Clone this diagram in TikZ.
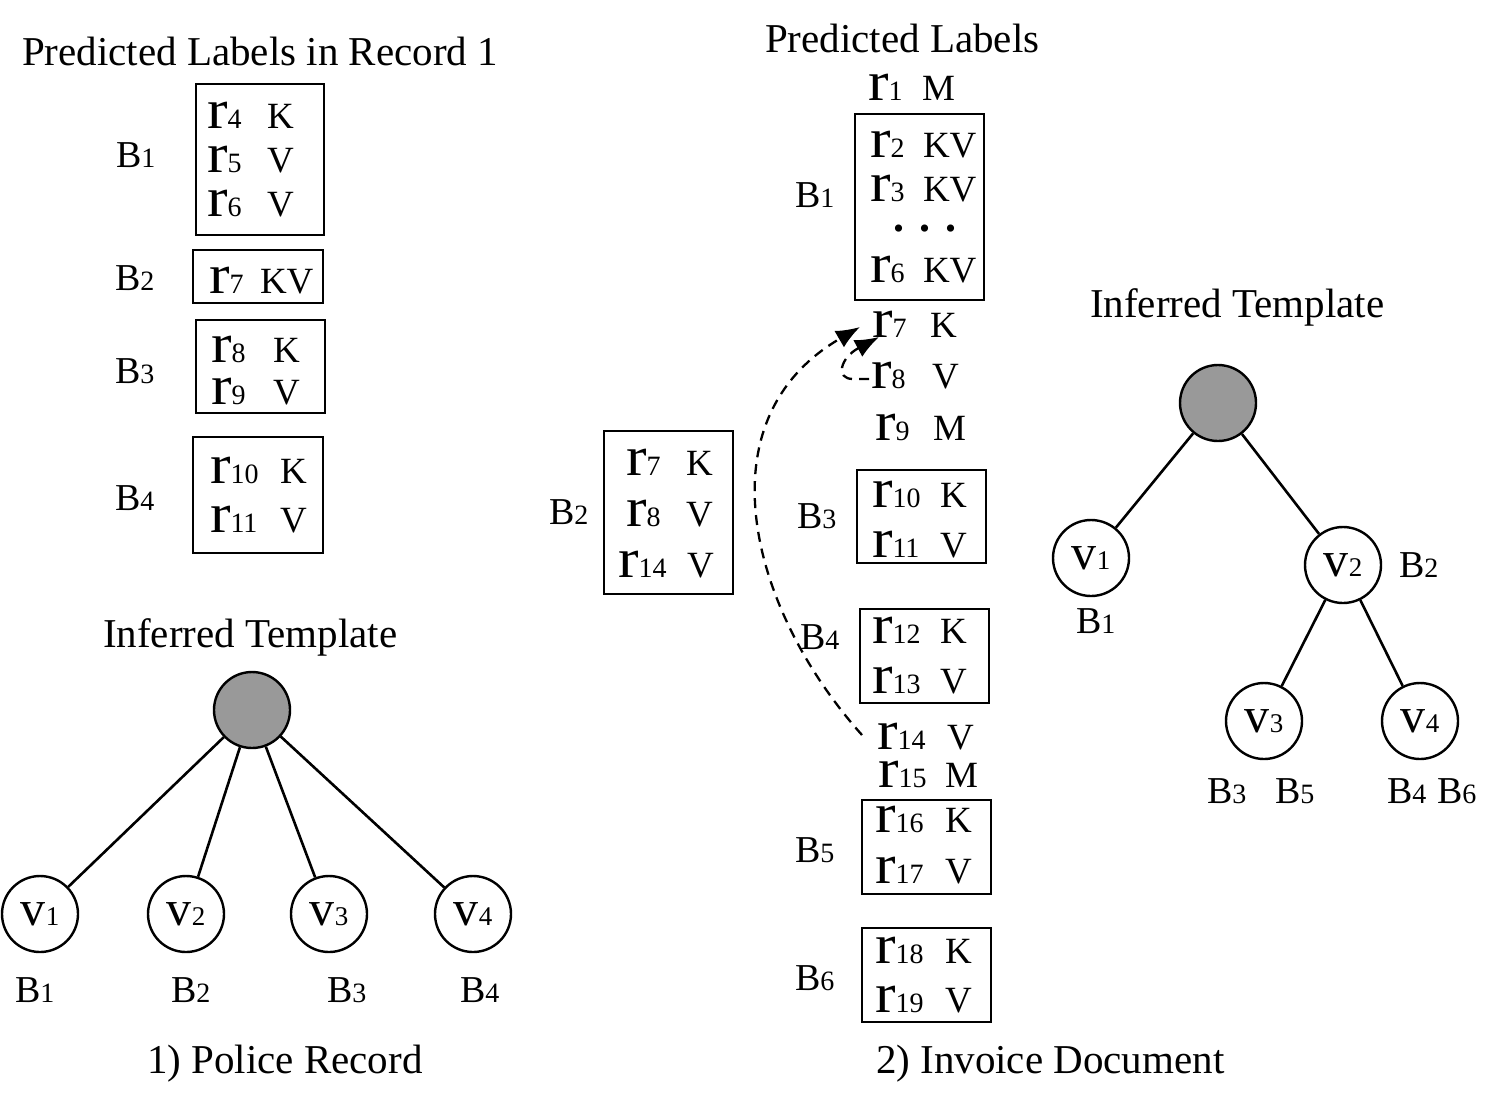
\documentclass[tikz,border=0pt]{standalone}
\usepackage{graphicx}
\usepackage{fontspec}
\setmainfont{Liberation Serif}
\usetikzlibrary{arrows.meta,calc}
\newcommand\Rr[1]{{\fontsize{56}{56}\selectfont\scalebox{1.1}[1]{r}}{\fontsize{28}{28}\selectfont #1}}
\newcommand\Lb[1]{{\fontsize{37}{37}\selectfont #1}}
\newcommand\Bl[1]{{\fontsize{38}{38}\selectfont B}{\fontsize{28}{28}\selectfont #1}}
\newcommand\Vn[1]{{\fontsize{50}{50}\selectfont v}{\fontsize{27}{27}\selectfont #1}}
\newcommand\Ttl{\fontsize{41}{41}\selectfont}
\newcommand\rowt[6]{\node[txt] (#1) at (#2,#3) {\makebox[#4pt][l]{\Rr{#5}}\Lb{#6}};}
\tikzset{
  txt/.style={anchor=base west, inner sep=0pt, outer sep=0pt},
  bx/.style={draw, line width=2.6pt, inner sep=0pt},
  vert/.style={circle, draw, line width=2.4pt, minimum size=76pt, inner sep=0pt, fill=white},
  rootv/.style={vert, fill=gray!80!white},
  edge/.style={line width=2.6pt},
  darr/.style={line width=2.3pt, dash pattern=on 10pt off 7pt, -{Latex[length=24pt,width=19pt]}}
}
\begin{document}
\begin{tikzpicture}[x=1pt,y=-1pt]
\fill[white] (0,0) rectangle (1495,1098);
\useasboundingbox (0,0) rectangle (1495,1098);

% ---------- Left panel ----------
\node[txt] (ttl1) at (22,65) {\Ttl Predicted Labels in Record 1};
\node[bx, minimum width=128pt, minimum height=151pt] (bxL1) at (260,159.5) {};
\node[bx, minimum width=130pt, minimum height=53pt] (bxL2) at (258,276.5) {};
\node[bx, minimum width=129pt, minimum height=93pt] (bxL3) at (260.5,366.5) {};
\node[bx, minimum width=130pt, minimum height=116pt] (bxL4) at (258,495) {};

\rowt{lr4}{207}{128}{60}{4}{K}
\rowt{lr5}{207}{172}{60}{5}{V}
\rowt{lr6}{207}{216}{60}{6}{V}
\rowt{lr7}{209}{293}{51}{7}{KV}
\rowt{lr8}{211}{362}{62}{8}{K}
\rowt{lr9}{211}{404}{62}{9}{V}
\rowt{lr10}{210}{483}{70}{10}{K}
\rowt{lr11}{210}{532}{70}{11}{V}

\node[txt] (lB1) at (116,167) {\Bl{1}};
\node[txt] (lB2) at (115,290) {\Bl{2}};
\node[txt] (lB3) at (115,383) {\Bl{3}};
\node[txt] (lB4) at (115,510) {\Bl{4}};

\node[txt] (ttl2) at (103,647) {\Ttl Inferred Template};
\node[rootv] (lroot) at (252,710) {};
\node[vert] (lv1) at (40,914) {\Vn{1}};
\node[vert] (lv2) at (186,914) {\Vn{2}};
\node[vert] (lv3) at (329,914) {\Vn{3}};
\node[vert] (lv4) at (473,914) {\Vn{4}};
\draw[edge] (lroot) -- (lv1);
\draw[edge] (lroot) -- (lv2);
\draw[edge] (lroot) -- (lv3);
\draw[edge] (lroot) -- (lv4);
\node[txt] (tB1) at (15,1002) {\Bl{1}};
\node[txt] (tB2) at (171,1002) {\Bl{2}};
\node[txt] (tB3) at (327,1002) {\Bl{3}};
\node[txt] (tB4) at (460,1002) {\Bl{4}};
\node[txt] (cap1) at (147,1073) {\Ttl 1) Police Record};

% ---------- Middle panel ----------
\node[txt] (ttl3) at (765,52) {\Ttl Predicted Labels};
\rowt{mr1}{868}{100}{54}{1}{M}
\node[bx, minimum width=129pt, minimum height=186pt] (bxM1) at (919.5,207) {};
\rowt{mr2}{870}{157}{53}{2}{KV}
\rowt{mr3}{870}{201}{53}{3}{KV}
\node[inner sep=0pt] (mdots) at (925,229) {\fontsize{44}{44}\selectfont\bfseries . . .};
\rowt{mr6}{870}{282}{53}{6}{KV}
\node[txt] (mB1) at (795,207) {\Bl{1}};

\rowt{mr7}{872}{337}{58}{7}{K}
\rowt{mr8}{871}{388}{61}{8}{V}
\rowt{mr9}{875}{440}{58}{9}{M}

\node[bx, minimum width=129pt, minimum height=93pt] (bxM3) at (921.5,516.5) {};
\rowt{mr10}{872}{507}{68}{10}{K}
\rowt{mr11}{872}{557}{68}{11}{V}
\node[txt] (mB3) at (797,528) {\Bl{3}};

\node[bx, minimum width=129pt, minimum height=94pt] (bxM4) at (924.5,656) {};
\rowt{mr12}{872}{643}{68}{12}{K}
\rowt{mr13}{872}{693}{68}{13}{V}
\node[txt] (mB4) at (800,649) {\Bl{4}};

\rowt{mr14}{877}{749}{70}{14}{V}
\rowt{mr15}{878}{787}{67}{15}{M}

\node[bx, minimum width=129pt, minimum height=94pt] (bxM5) at (926.5,847) {};
\rowt{mr16}{875}{832}{70}{16}{K}
\rowt{mr17}{875}{883}{70}{17}{V}
\node[txt] (mB5) at (795,862) {\Bl{5}};

\node[bx, minimum width=129pt, minimum height=94pt] (bxM6) at (926.5,975) {};
\rowt{mr18}{875}{963}{70}{18}{K}
\rowt{mr19}{875}{1012}{70}{19}{V}
\node[txt] (mB6) at (795,990) {\Bl{6}};

\node[txt] (cap2) at (876,1073) {\Ttl 2) Invoice Document};

% B2 box (middle left)
\node[bx, minimum width=129pt, minimum height=163pt] (bxM2) at (668.5,512.5) {};
\rowt{br7}{626}{475}{60}{7}{K}
\rowt{br8}{626}{526}{60}{8}{V}
\rowt{br14}{618}{577}{69}{14}{V}
\node[txt] (mB2) at (549,524) {\Bl{2}};

% dashed arrows
\coordinate (s1) at ($(mr14.base west)+(-15,-14)$);
\coordinate (t1) at ($(mr7.base west)+(-12,-10)$);
\draw[darr] (s1) .. controls (750,610) and (700,420) .. (t1);
\coordinate (s2) at ($(mr8.base west)+(-2,-9)$);
\coordinate (t2) at ($(mr7.base west)+(7,0)$);
\draw[darr] (s2) -- (853,379) .. controls (835,379) and (840,358) .. (t2);

% ---------- Right panel ----------
\node[txt] (ttl4) at (1090,317) {\Ttl Inferred Template};
\node[rootv] (rroot) at (1218,403) {};
\node[vert] (rv1) at (1091,558) {\Vn{1}};
\node[vert] (rv2) at (1343,565) {\Vn{2}};
\node[vert] (rv3) at (1264,721) {\Vn{3}};
\node[vert] (rv4) at (1420,721) {\Vn{4}};
\draw[edge] (rroot) -- (rv1);
\draw[edge] (rroot) -- (rv2);
\draw[edge] (rv2) -- (rv3);
\draw[edge] (rv2) -- (rv4);
\node[txt] (rB1) at (1076,633) {\Bl{1}};
\node[txt] (rB2) at (1399,577) {\Bl{2}};
\node[txt] (rB3) at (1207,803) {\Bl{3}};
\node[txt] (rB5) at (1275,803) {\Bl{5}};
\node[txt] (rB4) at (1387,803) {\Bl{4}};
\node[txt] (rB6) at (1437,803) {\Bl{6}};
\end{tikzpicture}
\end{document}
